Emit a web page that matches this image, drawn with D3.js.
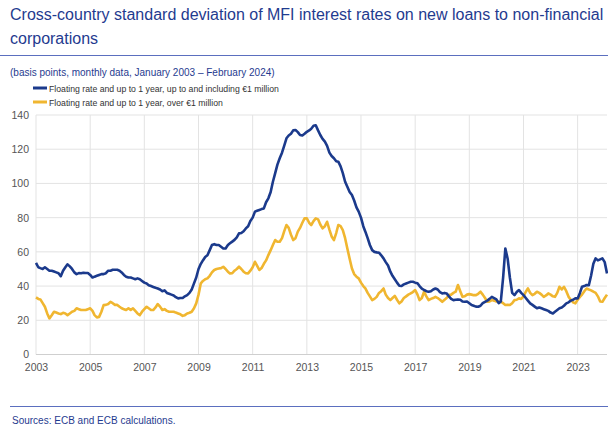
<!DOCTYPE html>
<html>
<head>
<meta charset="utf-8">
<script src="https://cdn.jsdelivr.net/npm/d3@7.9.0/dist/d3.min.js"></script>
<style>
  body { margin: 0; background: #fff; }
  svg { display: block; font-family: "Liberation Sans", Arial, sans-serif; }
</style>
</head>
<body>
<svg id="chart" width="608" height="427"></svg>
<script>
// monthly values, Jan 2003 - Feb 2024 (one row per year)
const smallLoans = [
  53.6, 51, 50.5, 50, 51, 50, 49, 49, 48.5, 48, 47.5, 45.8,
  49, 51, 52.7, 51.5, 50, 48, 47, 47.6, 47.5, 47.8, 47.6, 47.6,
  46.5, 45, 45.5, 46, 46.5, 47, 47, 47.5, 49, 49, 49.5, 49.5,
  49.5, 49, 48, 46.5, 45.5, 45, 45, 44.5, 44, 44.5, 44, 43,
  42, 41.5, 40.5, 40, 39.5, 39, 38.6, 38, 37, 37.5, 36, 35.5,
  35, 34.5, 33.5, 32.8, 33, 33, 34, 34.7, 36, 38, 41.6, 45,
  50, 53, 55, 57, 58, 61, 64, 64.5, 64, 64, 63, 62,
  62, 64, 65, 66, 67, 68.5, 70.8, 71, 72, 73.7, 75, 78,
  80, 83.5, 84, 84.5, 85, 85.4, 89, 91.3, 95, 101, 106, 111,
  114.7, 118, 122, 126.4, 128, 129, 131, 131.2, 130, 128.3, 128, 129,
  130.2, 131, 132, 133.7, 134, 131, 128.3, 126, 124.4, 122, 118, 116,
  114.7, 113, 112.7, 110, 106, 101, 98, 95, 93.2, 90, 86, 83.5,
  80, 75, 71.8, 68, 64, 61, 60, 59.7, 59.5, 58, 56.2, 54,
  52, 48.4, 46, 44, 42, 40.2, 40, 41, 41.5, 42, 42.5, 42.5,
  42, 41.6, 40, 38.5, 37.7, 37, 36.7, 37, 38, 38.6, 38, 36.5,
  35.7, 36, 35.7, 34, 32.5, 31.8, 32, 32.2, 32, 31, 30.8, 31,
  30, 28.9, 28.5, 28, 27.9, 28.5, 30, 30.8, 31.5, 32.5, 33.7, 33,
  32.2, 30, 31, 45, 62, 56, 45, 36, 34.7, 36.5, 37.7, 36,
  34.7, 33, 31.5, 29.9, 29, 28, 27, 27.5, 27, 26.5, 26, 25.5,
  24.5, 24, 25, 26, 27, 27.5, 28.5, 29.9, 30.5, 31.5, 32, 32.8,
  32.8, 36, 39.6, 40, 40.6, 40.5, 46, 53, 56.2, 55, 55.6, 56.2,
  54, 47.4
];

const largeLoans = [
  33.4, 32.5, 32.2, 30, 27.9, 24, 21.1, 23, 25, 24.5, 24, 23.6,
  24.4, 24, 23, 24, 25, 25.5, 27, 26.5, 26, 26, 26, 26.5,
  27, 25.5, 23, 21.7, 22, 25, 28.9, 29, 29.5, 30.8, 30, 29,
  29, 27.9, 27, 26.5, 26, 27, 26, 27, 25.5, 24, 23, 25,
  26.5, 27.9, 27, 26, 26, 27.5, 29.5, 28, 26, 26.5, 25.5, 25,
  25, 25, 24.5, 24, 23.5, 22.6, 23, 24, 24.4, 25, 27, 29.9,
  35, 41.6, 43, 44, 44.5, 46, 48, 49.4, 50, 50.3, 50.5, 51.3,
  50, 48.4, 47.4, 47.5, 49, 50, 51.3, 50, 48.4, 47.5, 47.4, 49,
  51, 54.2, 52, 49.4, 50.5, 53, 55, 58.1, 61, 64, 66.9, 65.9,
  65.9, 68, 72, 75.7, 74, 70, 66.9, 68, 71.8, 74, 77, 79.6,
  79.6, 77, 75.7, 78, 79.6, 79, 76, 73.7, 75, 77.6, 73, 69,
  66.9, 71, 75.7, 75, 72.7, 68, 62, 56, 50.3, 47, 45.5, 44.5,
  42, 40, 38.6, 36, 34, 31.8, 32.5, 33.7, 36, 37, 38.6, 35,
  33, 31.8, 33, 34.3, 32, 29.9, 31, 33, 34, 35, 35.7, 36.5,
  37.7, 35, 31.8, 33, 36.7, 34, 31.8, 32.5, 33, 33.7, 33, 32,
  30.8, 32, 33, 34.7, 35, 36, 36.7, 40.6, 37, 33.7, 34, 35,
  35.3, 35, 34.7, 34.7, 35.5, 36.7, 35, 33, 30.8, 31, 31.8, 31.5,
  31, 31, 30.8, 30, 28.9, 29, 28.9, 30, 31.8, 32, 32.8, 32.5,
  34, 36.7, 38.6, 36, 34.7, 35.5, 36.7, 36, 35, 33.7, 34.5, 35.7,
  35, 34, 33.7, 36, 39.6, 38, 39.6, 37, 33.7, 32, 30.5, 29.9,
  32, 33.7, 35, 37, 38.6, 38, 37.5, 36.7, 36, 34, 31, 30.8,
  33, 35
];

const seriesNames = [
  "Floating rate and up to 1 year, up to and including €1 million",
  "Floating rate and up to 1 year, over €1 million"
];
const seriesColors = ["#1b3a8c", "#f0b630"];
const xTickYears = [2003, 2005, 2007, 2009, 2011, 2013, 2015, 2017, 2019, 2021, 2023];
const yTicks = [0, 20, 40, 60, 80, 100, 120, 140];

const svg = d3.select("#chart");
const blue = "#1f3b8f";

// header
svg.append("text").attr("x", 10).attr("y", 20)
  .attr("font-size", 16).attr("fill", blue)
  .text("Cross-country standard deviation of MFI interest rates on new loans to non-financial");
svg.append("text").attr("x", 10).attr("y", 44)
  .attr("font-size", 16).attr("fill", blue)
  .text("corporations");
svg.append("line").attr("x1", 0).attr("x2", 608).attr("y1", 55.5).attr("y2", 55.5)
  .attr("stroke", "#5b6fbf").attr("stroke-width", 1.2);
svg.append("text").attr("x", 10).attr("y", 76)
  .attr("font-size", 10).attr("fill", blue)
  .text("(basis points, monthly data, January 2003 \u2013 February 2024)");

// legend
seriesNames.forEach((name, i) => {
  const y = 88 + i * 14;
  svg.append("line").attr("x1", 33).attr("x2", 47).attr("y1", y).attr("y2", y)
    .attr("stroke", seriesColors[i]).attr("stroke-width", 3);
  svg.append("text").attr("x", 49).attr("y", y + 3.5)
    .attr("font-size", 8.7).attr("fill", "#333")
    .text(name);
});

// scales
const months = smallLoans.map((d, i) => new Date(2003, i, 1));
const x = d3.scaleTime()
  .domain([new Date(2003, 0, 1), new Date(2024, 1, 1)])
  .range([36, 607]);
const y = d3.scaleLinear().domain([0, 140]).range([354.5, 115]);

// grid
const g = svg.append("g");
g.selectAll(".vgrid").data(xTickYears).join("line")
  .attr("x1", d => x(new Date(d, 0, 1))).attr("x2", d => x(new Date(d, 0, 1)))
  .attr("y1", y(140)).attr("y2", y(0))
  .attr("stroke", "#e3e3e3").attr("stroke-width", 1);
g.selectAll(".hgrid").data(yTicks).join("line")
  .attr("x1", 36).attr("x2", 607)
  .attr("y1", d => y(d)).attr("y2", d => y(d))
  .attr("stroke", d => d === 0 ? "#cfcfcf" : "#e3e3e3").attr("stroke-width", 1);

// axes labels
const yAxis = svg.append("g").attr("transform", "translate(36,0)")
  .call(d3.axisLeft(y).tickValues(yTicks).tickSize(0).tickPadding(7));
yAxis.select(".domain").remove();
yAxis.selectAll("text").attr("font-size", 10.5).attr("fill", "#555")
  .attr("font-family", "'Liberation Sans', Arial, sans-serif");

const xAxis = svg.append("g").attr("transform", `translate(0,${y(0)})`)
  .call(d3.axisBottom(x).tickValues(xTickYears.map(d => new Date(d, 0, 1)))
    .tickFormat(d3.timeFormat("%Y")).tickSize(0).tickPadding(9));
xAxis.select(".domain").remove();
xAxis.selectAll("text").attr("font-size", 10.5).attr("fill", "#555")
  .attr("font-family", "'Liberation Sans', Arial, sans-serif");

// lines
const line = d3.line().x((d, i) => x(months[i])).y(d => y(d));
[largeLoans, smallLoans].forEach((data, k) => {
  svg.append("path").datum(data)
    .attr("d", line)
    .attr("fill", "none")
    .attr("stroke", seriesColors[1 - k])
    .attr("stroke-width", 2.6)
    .attr("stroke-linejoin", "round");
});

// footer
svg.append("line").attr("x1", 10).attr("x2", 608).attr("y1", 406.5).attr("y2", 406.5)
  .attr("stroke", "#5b6fbf").attr("stroke-width", 1.2);
svg.append("text").attr("x", 12).attr("y", 424)
  .attr("font-size", 10).attr("fill", blue)
  .text("Sources: ECB and ECB calculations.");
</script>
</body>
</html>
